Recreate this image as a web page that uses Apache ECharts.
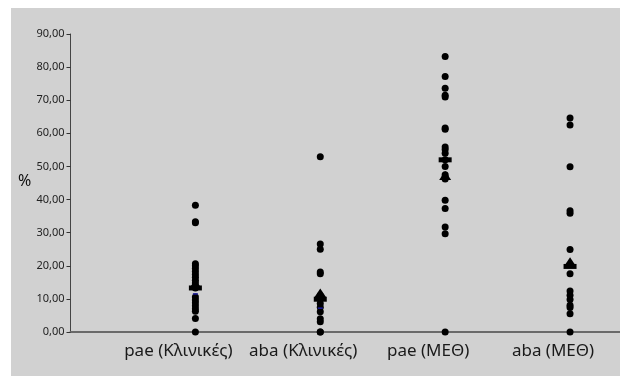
<!DOCTYPE html>
<html>
<head>
<meta charset="utf-8">
<script src="https://cdn.jsdelivr.net/npm/echarts@6/dist/echarts.min.js"></script>
<style>
  html, body { margin: 0; padding: 0; background: #fff; }
  #chart { width: 620px; height: 376px; }
</style>
</head>
<body>
<div id="chart"></div>
<script>
// groups along the x axis (placed at x = 1..4)
var groups = ['pae (Κλινικές)', 'aba (Κλινικές)', 'pae (ΜΕΘ)', 'aba (ΜΕΘ)'];

// individual values (%) per group
var paeClinics = [38.3, 33.3, 33.0, 20.6, 20.0, 19.2, 18.3, 17.4, 16.5, 15.6, 14.8, 13.3, 10.6, 9.7, 8.8, 7.9, 7.0, 6.3, 4.1, 0];
var abaClinics = [52.9, 26.6, 25.0, 18.1, 17.6, 11.0, 9.9, 8.6, 7.5, 6.1, 4.0, 3.1, 0, 0];
var paeIcu = [83.2, 77.2, 73.6, 71.5, 71.0, 61.6, 61.2, 55.9, 55.1, 54.0, 52.0, 50.0, 47.5, 46.8, 46.2, 39.8, 37.3, 31.7, 29.7, 0];
var abaIcu = [64.6, 62.5, 49.9, 36.6, 35.9, 24.9, 17.6, 12.4, 11.1, 9.8, 8.1, 7.4, 5.5, 0];

// summary markers per group
var medians = [13.3, 9.9, 52.0, 19.8];
var means = [14.6, 11.8, 47.3, 21.2];
var blueMarks = [11.5, 7.2];

var yTicks = [0, 10, 20, 30, 40, 50, 60, 70, 80, 90];

var allGroups = [paeClinics, abaClinics, paeIcu, abaIcu];
var points = [];
allGroups.forEach(function (vals, i) {
    vals.forEach(function (v) { points.push([i + 1, v]); });
});
var toPairs = function (arr) {
    return arr.map(function (v, i) { return [i + 1, v]; });
};

var myChart = echarts.init(document.getElementById('chart'));
var font = '"Noto Sans", "Open Sans", sans-serif';
var option = {
    animation: false,
    textStyle: { fontFamily: font },
    graphic: [
        { type: 'rect', z: -10, silent: true, shape: { x: 11, y: 8, width: 620, height: 380 }, style: { fill: '#d1d1d1' } },
        { type: 'text', left: 18, top: 173, style: { text: '%', fontSize: 16, fill: '#111', fontFamily: font } }
    ],
    grid: { left: 70.5, right: 0, top: 34, bottom: 44 },
    xAxis: {
        type: 'value',
        min: 0,
        max: 4.4,
        interval: 1,
        splitLine: { show: false },
        axisTick: { show: false },
        axisLine: { show: true, lineStyle: { color: '#6a6a6a', width: 2 } },
        axisLabel: {
            fontSize: 17,
            color: '#1a1a1a',
            margin: 11,
            padding: [0, 34, 0, 0],
            showMinLabel: false,
            showMaxLabel: false,
            formatter: function (v) { return groups[v - 1] || ''; }
        }
    },
    yAxis: {
        type: 'value',
        min: yTicks[0],
        max: yTicks[yTicks.length - 1],
        interval: 10,
        splitLine: { show: false },
        axisLine: { show: true, lineStyle: { color: '#444', width: 1 } },
        axisTick: { show: true, length: 4, lineStyle: { color: '#333' } },
        axisLabel: {
            fontSize: 11,
            color: '#222',
            margin: 6,
            formatter: function (v) { return v.toFixed(2).replace('.', ','); }
        }
    },
    series: [
        {
            type: 'scatter',
            data: points,
            symbol: 'circle',
            symbolSize: 7,
            itemStyle: { color: '#000', opacity: 1 },
            z: 2
        },
        {
            type: 'scatter',
            data: toPairs(means),
            symbol: 'triangle',
            symbolSize: [12, 9],
            itemStyle: { color: '#000', opacity: 1 },
            z: 3
        },
        {
            type: 'scatter',
            data: toPairs(medians),
            symbol: 'rect',
            symbolSize: [13, 5],
            itemStyle: { color: '#000', opacity: 1 },
            z: 4
        },
        {
            type: 'scatter',
            data: toPairs(blueMarks),
            symbol: 'rect',
            symbolSize: [5, 1.5],
            itemStyle: { color: '#1a1a9a', opacity: 1 },
            z: 5
        }
    ]
};
myChart.setOption(option);
</script>
</body>
</html>
